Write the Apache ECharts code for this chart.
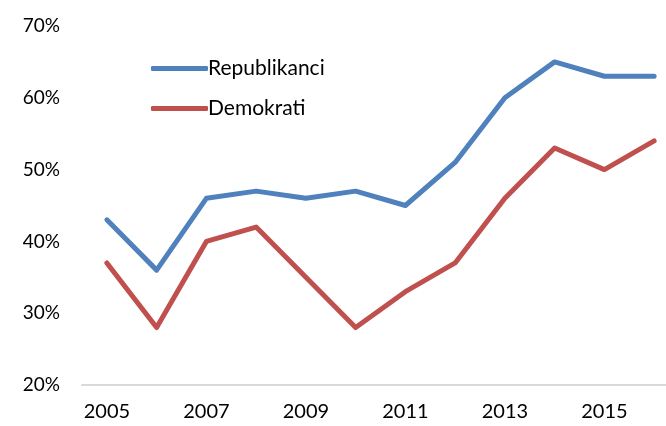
<!DOCTYPE html>
<html>
<head>
<meta charset="utf-8">
<script src="https://cdn.jsdelivr.net/npm/echarts@6/dist/echarts.min.js"></script>
<style>
  html, body { margin: 0; padding: 0; background: #fff; overflow: hidden; }
  #chart { width: 679px; height: 426px; }
</style>
</head>
<body>
<div id="chart"></div>
<script>
var years = ['2005','2006','2007','2008','2009','2010','2011','2012','2013','2014','2015','2016'];
var republikanci = [43, 36, 46, 47, 46, 47, 45, 51, 60, 65, 63, 63];
var demokrati = [37, 28, 40, 42, 35, 28, 33, 37, 46, 53, 50, 54];

var font = 'Lato, "Open Sans", sans-serif';
var dom = document.getElementById('chart');
var myChart = echarts.init(dom);
var option = {
    animation: false,
    textStyle: { fontFamily: font },
    grid: { left: 82, right: 0, top: 26, bottom: 41 },
    legend: {
        orient: 'vertical',
        left: 146,
        top: 53,
        itemWidth: 57,
        itemHeight: 5,
        itemGap: 19,
        icon: 'roundRect',
        textStyle: { fontFamily: font, fontSize: 21, color: '#000', padding: [0, 0, 0, -5] },
        data: ['Republikanci', 'Demokrati']
    },
    xAxis: {
        type: 'category',
        data: years,
        boundaryGap: true,
        axisLine: { lineStyle: { color: '#d9d9d9', width: 2 } },
        axisTick: { show: false },
        axisLabel: { interval: 1, color: '#000', fontSize: 20, margin: 17, fontFamily: font }
    },
    yAxis: {
        type: 'value',
        min: 20,
        max: 70,
        interval: 10,
        splitLine: { show: false },
        axisLine: { show: false },
        axisTick: { show: false },
        axisLabel: { formatter: '{value}%', color: '#000', fontSize: 19, margin: 22, fontFamily: font }
    },
    series: [
        {
            name: 'Republikanci',
            type: 'line',
            data: republikanci,
            symbol: 'none',
            color: '#4f81bd',
            lineStyle: { width: 5, color: '#4f81bd', cap: 'round', join: 'round' }
        },
        {
            name: 'Demokrati',
            type: 'line',
            data: demokrati,
            symbol: 'none',
            color: '#c0504d',
            lineStyle: { width: 5, color: '#c0504d', cap: 'round', join: 'round' }
        }
    ]
};
myChart.setOption(option);
</script>
</body>
</html>
